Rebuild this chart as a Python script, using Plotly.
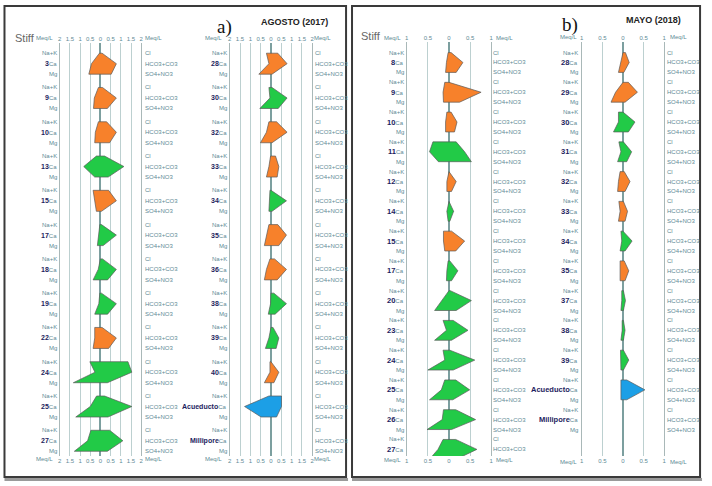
import plotly.graph_objects as go

W, H = 712, 486

# ---------------- DATA (meq/L) ----------------
# Panel a) AGOSTO (2017) - left column
a1_samples = ["3", "9", "10", "13", "15", "17", "18", "19", "22", "24", "25", "27"]
a1_type = ["O", "O", "O", "G", "O", "G", "G", "G", "O", "G", "G", "G"]
a1_nak = [0.05, 0.10, 0.10, 0.20, 0.36, 0.03, 0.00, 0.03, 0.28, 0.52, 0.19, 0.47]
a1_ca = [0.44, 0.30, 0.25, 0.82, 0.27, 0.08, 0.11, 0.08, 0.28, 0.27, 0.50, 0.63]
a1_mg = [0.57, 0.34, 0.28, 0.28, 0.20, 0.15, 0.36, 0.28, 0.36, 1.33, 1.21, 1.28]
a1_cl = [0.08, 0.10, 0.30, 0.20, 0.40, 0.05, 0.10, 0.05, 0.08, 1.35, 0.20, 0.45]
a1_hco3 = [0.78, 0.78, 0.78, 1.15, 0.78, 0.78, 0.78, 0.78, 0.78, 1.54, 1.54, 1.10]
a1_so4 = [0.53, 0.34, 0.45, 0.38, 0.05, 0.13, 0.35, 0.35, 0.40, 0.34, 0.37, 0.34]

# Panel a) AGOSTO (2017) - right column
a2_samples = ["28", "30", "32", "33", "34", "35", "36", "38", "39", "40", "Acueducto", "Millipore"]
a2_type = ["O", "G", "O", "O", "G", "O", "O", "G", "G", "O", "B", ""]
a2_nak = [0.22, 0.10, 0.10, 0.02, 0.05, 0.10, 0.05, 0.00, 0.00, 0.05, 0.10, 0.0]
a2_ca = [0.10, 0.05, 0.22, 0.10, 0.07, 0.22, 0.22, 0.02, 0.10, 0.05, 1.28, 0.0]
a2_mg = [0.59, 0.54, 0.51, 0.22, 0.10, 0.32, 0.32, 0.13, 0.27, 0.32, 0.48, 0.0]
a2_cl = [0.33, 0.05, 0.27, 0.22, 0.00, 0.33, 0.17, 0.14, 0.10, 0.00, 0.51, 0.0]
a2_hco3 = [0.78, 0.78, 0.78, 0.38, 0.75, 0.75, 0.75, 0.75, 0.38, 0.38, 0.51, 0.0]
a2_so4 = [0.05, 0.35, 0.05, 0.30, 0.05, 0.38, 0.30, 0.20, 0.25, 0.14, 0.27, 0.0]

# Panel b) MAYO (2018) - left column
b1_samples = ["8", "9", "10", "11", "12", "14", "15", "17", "20", "23", "24", "25", "26", "27"]
b1_type = ["O", "O", "O", "G", "O", "G", "O", "G", "G", "G", "G", "G", "G", "G"]
b1_nak = [0.02, 0.10, 0.05, 0.38, 0.00, 0.00, 0.13, 0.02, 0.00, 0.14, 0.14, 0.10, 0.13, 0.14]
b1_ca = [0.06, 0.14, 0.08, 0.46, 0.05, 0.05, 0.13, 0.05, 0.17, 0.06, 0.10, 0.18, 0.16, 0.26]
b1_mg = [0.08, 0.13, 0.08, 0.25, 0.05, 0.02, 0.10, 0.06, 0.34, 0.34, 0.50, 0.46, 0.52, 0.46]
b1_cl = [0.05, 0.00, 0.05, 0.17, 0.02, 0.00, 0.06, 0.02, 0.03, 0.10, 0.02, 0.16, 0.16, 0.16]
b1_hco3 = [0.33, 0.76, 0.19, 0.37, 0.17, 0.11, 0.37, 0.21, 0.53, 0.45, 0.61, 0.49, 0.63, 0.66]
b1_so4 = [0.17, 0.25, 0.13, 0.53, 0.06, 0.02, 0.16, 0.06, 0.17, 0.06, 0.10, 0.09, 0.06, 0.17]

# Panel b) MAYO (2018) - right column
b2_samples = ["28", "29", "30", "31", "32", "33", "34", "35", "37", "38", "39", "Acueducto", "Millipore"]
b2_type = ["O", "O", "G", "G", "O", "O", "G", "O", "G", "G", "G", "B", ""]
b2_nak = [0.00, 0.00, 0.11, 0.10, 0.07, 0.10, 0.05, 0.07, 0.03, 0.02, 0.06, 0.05, 0.0]
b2_ca = [0.05, 0.18, 0.11, 0.05, 0.11, 0.07, 0.03, 0.07, 0.03, 0.02, 0.05, 0.05, 0.0]
b2_mg = [0.11, 0.29, 0.23, 0.13, 0.13, 0.11, 0.07, 0.07, 0.05, 0.05, 0.05, 0.05, 0.0]
b2_cl = [0.06, 0.13, 0.00, 0.01, 0.03, 0.01, 0.00, 0.03, 0.01, 0.01, 0.01, 0.09, 0.0]
b2_hco3 = [0.15, 0.35, 0.29, 0.21, 0.17, 0.11, 0.22, 0.14, 0.06, 0.05, 0.14, 0.53, 0.0]
b2_so4 = [0.02, 0.05, 0.13, 0.09, 0.05, 0.05, 0.05, 0.05, 0.01, 0.01, 0.01, 0.09, 0.0]

cation_labels = ["Na+K", "Ca", "Mg"]
anion_labels = ["Cl", "HCO3+CO3", "SO4+NO3"]
ticks_a = [-2, -1.5, -1, -0.5, 0, 0.5, 1, 1.5, 2]
ticks_b = [-1, -0.5, 0, 0.5, 1]

# ---------------- STYLE / LAYOUT ----------------
FILL = {"O": "#F7812B", "G": "#22CA47", "B": "#1C9FE6"}
LBL = "#5E8A95"
NUM = "#1D1D5E"

def px(x):
    return x / W

def py(y):
    return 1 - y / H

cols = [
    dict(data=(a1_samples, a1_type, a1_nak, a1_ca, a1_mg, a1_cl, a1_hco3, a1_so4),
         xbox=(58, 140), ybox=(43, 456), ticks=ticks_a, panel="a", lx=56, rx=143,
         mq=(43, 152), ty=38, by=459),
    dict(data=(a2_samples, a2_type, a2_nak, a2_ca, a2_mg, a2_cl, a2_hco3, a2_so4),
         xbox=(229, 312), ybox=(43, 456), ticks=ticks_a, panel="a", lx=227, rx=314,
         mq=(213, 322), ty=38, by=459),
    dict(data=(b1_samples, b1_type, b1_nak, b1_ca, b1_mg, b1_cl, b1_hco3, b1_so4),
         xbox=(407, 492), ybox=(42, 456), ticks=ticks_b, panel="b", lx=405, rx=493,
         mq=(393, 505), ty=38, by=460),
    dict(data=(b2_samples, b2_type, b2_nak, b2_ca, b2_mg, b2_cl, b2_hco3, b2_so4),
         xbox=(583, 666), ybox=(42, 456), ticks=ticks_b, panel="b", lx=580, rx=668,
         mq=(570, 680), ty=37, by=462),
]

fig = go.Figure()
annotations = []
layout = {}

def fmt(v):
    v = abs(v)
    return str(int(v)) if v == int(v) else str(v)

for c, col in enumerate(cols):
    n = c + 1
    samples, types, nak, ca, mg, cl, hco3, so4 = col["data"]
    xa, ya, xb = f"x{n}", f"y{n}", f"x{n + 4}"
    if col["panel"] == "a":
        step, y0px, d = 34.28, 63.7, 10.5 / 34.28
        ypos = lambda i: (i - d, i, i + d)
        yr = [(col["ybox"][1] - y0px) / step, (col["ybox"][0] - y0px) / step]
    else:
        step, y0px = 9.92, 62.5
        ypos = lambda i: (3 * i, 3 * i + 1, 3 * i + 2)
        yr = [1 + (col["ybox"][1] - y0px) / step, 1 + (col["ybox"][0] - y0px) / step]

    for i, s in enumerate(samples):
        y1, y2, y3 = ypos(i)
        vals = [nak[i], ca[i], mg[i], cl[i], hco3[i], so4[i]]
        if types[i] and any(v > 0 for v in vals):
            fig.add_trace(go.Scatter(
                x=[-nak[i], -ca[i], -mg[i], so4[i], hco3[i], cl[i], -nak[i]],
                y=[y1, y2, y3, y3, y2, y1, y1],
                xaxis=xa, yaxis=ya, mode="lines", fill="toself",
                fillcolor=FILL[types[i]], line=dict(color="#5a5a5a", width=0.7),
                hoverinfo="skip", showlegend=False))
        for lab, yy in zip(cation_labels, (y1, y2, y3)):
            if lab == "Ca":
                fsz = 7 if col["panel"] == "a" else 7.5
                txt = f"<span style='color:{NUM};font-size:{fsz}px'><b>{s}</b></span>Ca"
            else:
                txt = lab
            annotations.append(dict(x=px(col["lx"]), xref="paper", y=yy, yref=ya,
                                    text=txt, showarrow=False, xanchor="right",
                                    yanchor="middle", borderpad=0,
                                    font=dict(size=6, color=LBL)))
        for lab, yy in zip(anion_labels, (y1, y2, y3)):
            annotations.append(dict(x=px(col["rx"]), xref="paper", y=yy, yref=ya,
                                    text=lab, showarrow=False, xanchor="left",
                                    yanchor="middle", borderpad=0,
                                    font=dict(size=6, color=LBL)))

    # invisible trace so that the bottom scale axis is drawn
    fig.add_trace(go.Scatter(x=[0], y=[sum(yr) / 2], xaxis=xb, yaxis=ya, mode="markers",
                             marker=dict(opacity=0), hoverinfo="skip", showlegend=False))

    t = col["ticks"]
    xdom = [px(col["xbox"][0]), px(col["xbox"][1])]
    ydom = [py(col["ybox"][1]), py(col["ybox"][0])]
    common = dict(range=[t[0], t[-1]], tickvals=t,
                  ticktext=[fmt(v) for v in t], ticks="", fixedrange=True,
                  tickfont=dict(size=6, color=LBL, family="Arial, Liberation Sans"))
    layout[f"xaxis{n}"] = dict(common, domain=xdom, side="top", anchor=ya, showgrid=True,
                               gridcolor="#bcd0d0", gridwidth=1,
                               zeroline=True, zerolinecolor="#7c9f9f", zerolinewidth=1.6,
                               showline=False)
    layout[f"xaxis{n + 4}"] = dict(common, side="bottom", anchor=ya, overlaying=xa,
                                   showgrid=False, zeroline=False, showline=False)
    layout[f"yaxis{n}"] = dict(domain=ydom, range=yr, anchor=xa, showgrid=False,
                               zeroline=False, showticklabels=False, ticks="",
                               showline=True, mirror=True, linecolor="#a9b8b8",
                               linewidth=1, fixedrange=True)
    for yy in (col["ty"], col["by"]):
        for xx in col["mq"]:
            annotations.append(dict(x=px(xx), y=py(yy), xref="paper", yref="paper",
                                    text="Meq/L", showarrow=False, xanchor="center",
                                    yanchor="middle", font=dict(size=6, color=LBL)))

texts = [
    ("AGOSTO (2017)", 294, 22, dict(size=9, color="#222222"), True),
    ("MAYO (2018)", 655, 20, dict(size=9, color="#222222"), True),
    ("Stiff", 23, 38, dict(size=11, color="#666666"), False),
    ("Stiff", 371, 36, dict(size=11, color="#666666"), False),
]
for txt, xx, yy, f, bold in texts:
    annotations.append(dict(x=px(xx), y=py(yy), xref="paper", yref="paper",
                            text=f"<b>{txt}</b>" if bold else txt, showarrow=False,
                            xanchor="center", yanchor="middle", font=f))
for txt, xx, yy in (("a)", 224, 27), ("b)", 571, 25)):
    annotations.append(dict(x=px(xx), y=py(yy), xref="paper", yref="paper", text=txt,
                            showarrow=False, xanchor="center", yanchor="middle",
                            font=dict(size=19, color="#111111",
                                      family="Liberation Serif, DejaVu Serif, serif")))

shapes = []
for x0, x1 in ((2.5, 346), (352, 702)):
    shapes.append(dict(type="rect", xref="paper", yref="paper", x0=px(x0), x1=px(x1),
                       y0=py(477), y1=py(6), line=dict(color="#3a3a3a", width=2)))
    shapes.append(dict(type="line", xref="paper", yref="paper", x0=px(x0), x1=px(x1 + 2),
                       y0=py(479.5), y1=py(479.5), line=dict(color="#9a9a9a", width=3)))

fig.update_layout(
    width=W, height=H, margin=dict(l=0, r=0, t=0, b=0),
    paper_bgcolor="white", plot_bgcolor="white",
    font=dict(family="Arial, Liberation Sans, sans-serif"),
    annotations=annotations, shapes=shapes, showlegend=False,
    **layout)

fig.write_html("out.html", config={"displayModeBar": False},
               post_script="document.body.style.margin='0';")
